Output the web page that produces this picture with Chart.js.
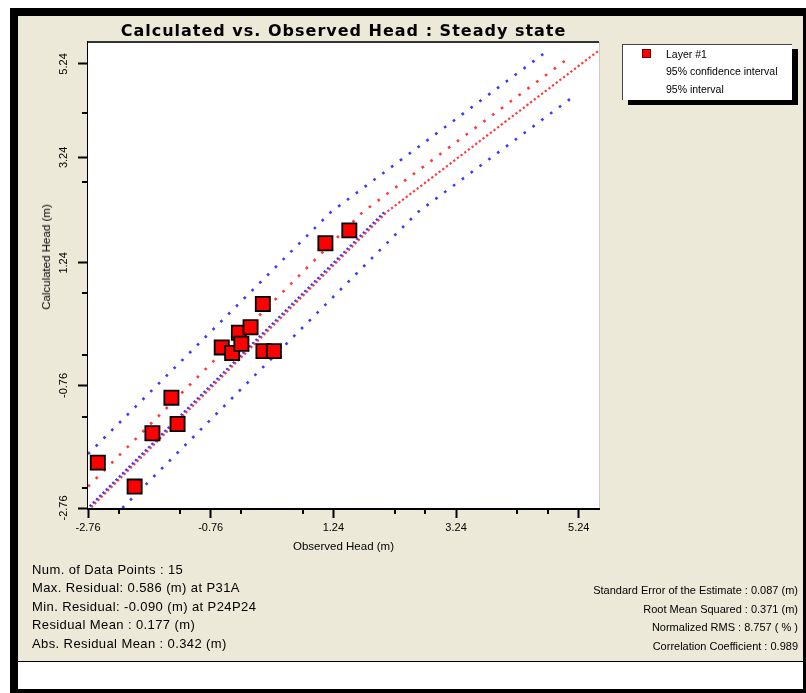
<!DOCTYPE html>
<html>
<head>
<meta charset="utf-8">
<script src="https://cdn.jsdelivr.net/npm/chart.js@4.4.1/dist/chart.umd.min.js"></script>
<style>
html,body{margin:0;padding:0;background:#fff;width:806px;height:693px;overflow:hidden;font-family:"Liberation Sans",Arial,sans-serif;}
#frame{position:absolute;left:10px;top:8px;width:796px;height:685px;background:#000;}
#panel{position:absolute;left:18px;top:16px;width:785px;height:645px;background:#ECE9D8;}
#strip{position:absolute;left:18px;top:662px;width:785px;height:27px;background:#fff;}
#c{position:absolute;left:0;top:0;}
.t{position:absolute;white-space:nowrap;color:#000;}
#title{left:88px;width:511px;top:21px;text-align:center;font-weight:bold;font-size:16px;letter-spacing:1px;font-family:"DejaVu Sans",Verdana,sans-serif;}
#ytitle{left:46px;top:257px;transform:translate(-50%,-50%) rotate(-90deg);font-size:11.5px;}
#xtitle{left:88px;width:511px;top:540px;text-align:center;font-size:11.5px;}
#statsL{left:32px;top:561px;font-size:13px;letter-spacing:0.4px;line-height:18.4px;}
#statsR{right:8px;top:581px;font-size:11px;line-height:18.5px;text-align:right;}
#legend{position:absolute;left:622px;top:44px;width:169px;height:55px;background:#fff;border-top:1px solid #444;border-left:1px solid #444;box-shadow:6px 5px 0 #000;font-size:10.5px;}
#legend .row{position:absolute;left:43px;white-space:nowrap;transform:translateY(-50%);}
#legend .mk{position:absolute;left:19px;top:4px;width:7px;height:7px;background:#f00;border:1px solid #600;}
</style>
</head>
<body>
<div id="frame"></div>
<div id="panel"></div>
<div id="strip"></div>
<canvas id="c" width="806" height="693"></canvas>
<div class="t" id="title">Calculated vs. Observed Head : Steady state</div>
<div class="t" id="ytitle">Calculated Head (m)</div>
<div class="t" id="xtitle">Observed Head (m)</div>
<div id="legend">
  <div class="mk"></div>
  <div class="row" style="top:9px">Layer #1</div>
  <div class="row" style="top:26px">95% confidence interval</div>
  <div class="row" style="top:44px">95% interval</div>
</div>
<div class="t" id="statsL">Num. of Data Points : 15<br>Max. Residual: 0.586 (m) at P31A<br>Min. Residual: -0.090 (m) at P24P24<br>Residual Mean : 0.177 (m)<br>Abs. Residual Mean : 0.342 (m)</div>
<div class="t" id="statsR">Standard Error of the Estimate : 0.087 (m)<br>Root Mean Squared : 0.371 (m)<br>Normalized RMS : 8.757 ( % )<br>Correlation Coefficient : 0.989</div>
<script>
// ---- data ----
const OBSERVED   = [-2.60, -2.00, -1.71, -1.40, -1.30, -0.58, -0.41, -0.30, -0.26, -0.11, 0.09, 0.10, 0.27, 1.11, 1.50];
const CALCULATED = [-2.02, -2.41, -1.54, -0.96, -1.39, -0.14, -0.23, 0.10, -0.08, 0.19, 0.57, -0.20, -0.20, 1.56, 1.77];
const X_TICKS = [-2.76, -0.76, 1.24, 3.24, 5.24];
const Y_TICKS = [-2.76, -0.76, 1.24, 3.24, 5.24];
const X_MINOR = [-2.26, -1.26, -0.26, 0.74, 2.24, 2.74, 4.24, 4.74];
const Y_MINOR = [-2.43, -1.28, -0.27, 0.74, 2.72, 4.20];
const X_RANGE = [-2.76, 5.57];
const Y_RANGE = [-2.76, 5.71];
// line vertices (observed, calculated)
const ONE_TO_ONE_X = [-2.76, 2.07];
const ONE_TO_ONE_Y = [-2.76, 2.07];
const CONF_LOW_X = [-2.76, 2.11, 5.57];
const CONF_LOW_Y = [-2.80, 2.07, 5.53];
const CONF_UP_X  = [-2.76, 1.72, 5.11];
const CONF_UP_Y  = [-2.41, 2.07, 5.40];
const PRED_UP_X  = [-2.76, 1.20, 4.72];
const PRED_UP_Y  = [-1.88, 2.07, 5.51];
const PRED_LOW_X = [-2.20, 2.62, 5.11];
const PRED_LOW_Y = [-2.76, 2.07, 4.50];

// vertical axis of the picture is compressed above this value
const Y_BREAK = 2.07;
const Y_UPPER_RATIO = 0.762;

class BrokenLinearScale extends Chart.LinearScale {
  _toV(v){ return v <= Y_BREAK ? v : Y_BREAK + (v - Y_BREAK) * Y_UPPER_RATIO; }
  _fromV(u){ return u <= Y_BREAK ? u : Y_BREAK + (u - Y_BREAK) / Y_UPPER_RATIO; }
  getPixelForValue(value){
    if (value === null || value === undefined || isNaN(value)) return NaN;
    const lo = this._toV(this.min), hi = this._toV(this.max);
    return this.getPixelForDecimal((this._toV(value) - lo) / (hi - lo));
  }
  getValueForPixel(pixel){
    const lo = this._toV(this.min), hi = this._toV(this.max);
    return this._fromV(lo + this.getDecimalForPixel(pixel) * (hi - lo));
  }
}
BrokenLinearScale.id = 'brokenLinear';
BrokenLinearScale.defaults = Chart.LinearScale.defaults;
Chart.register(BrokenLinearScale);

const pts = (xs, ys) => xs.map((x, i) => ({x: x, y: ys[i]}));
const BLUE = '#3a3aff', RED = '#ff3a3a';

function lineDs(xs, ys, color, width, dash, offset){
  return {type:'line', data: pts(xs, ys), borderColor: color, borderWidth: width,
          borderDash: dash, borderDashOffset: offset || 0, borderCapStyle:'butt',
          pointRadius: 0, fill: false, tension: 0};
}

const plotFrame = {
  id: 'plotFrame',
  beforeDatasetsDraw(chart){
    const {ctx, chartArea:a} = chart;
    ctx.save(); ctx.fillStyle = '#fff';
    ctx.fillRect(a.left, a.top, a.right - a.left, a.bottom - a.top);
    ctx.restore();
  },
  afterDraw(chart){
    const {ctx, chartArea:a} = chart;
    ctx.save();
    ctx.strokeStyle = '#333'; ctx.lineWidth = 2;
    ctx.beginPath(); ctx.moveTo(a.left, a.top); ctx.lineTo(a.right, a.top); ctx.stroke();
    ctx.strokeStyle = '#ccc'; ctx.lineWidth = 1;
    ctx.beginPath(); ctx.moveTo(a.right + 0.5, a.top); ctx.lineTo(a.right + 0.5, a.bottom); ctx.stroke();
    ctx.strokeStyle = '#000'; ctx.lineWidth = 2;
    const xs = chart.scales.x, ys = chart.scales.y;
    X_MINOR.forEach(v => { const p = Math.round(xs.getPixelForValue(v));
      ctx.beginPath(); ctx.moveTo(p, a.bottom); ctx.lineTo(p, a.bottom + 6); ctx.stroke(); });
    Y_MINOR.forEach(v => { const p = Math.round(ys.getPixelForValue(v));
      ctx.beginPath(); ctx.moveTo(a.left, p); ctx.lineTo(a.left - 6, p); ctx.stroke(); });
    ctx.restore();
  }
};

const tickFont = {family: '"Liberation Sans", Arial, sans-serif', size: 11};

new Chart(document.getElementById('c'), {
  type: 'scatter',
  data: {
    datasets: [
      {type:'scatter', data: pts(OBSERVED, CALCULATED), pointStyle:'rect', pointRadius: 10,
       backgroundColor:'#ff0000', borderColor:'#000', borderWidth: 1.8},
      lineDs(ONE_TO_ONE_X, ONE_TO_ONE_Y, BLUE, 2.2, [2.2, 2.4], 2.3),
      lineDs(CONF_LOW_X, CONF_LOW_Y, RED, 2.2, [2.2, 2.4], 0),
      lineDs(CONF_UP_X, CONF_UP_Y, RED, 2.6, [2.6, 8.4]),
      lineDs(PRED_UP_X, PRED_UP_Y, BLUE, 2.6, [2.6, 8.4]),
      lineDs(PRED_LOW_X, PRED_LOW_Y, BLUE, 2.6, [2.6, 8.4])
    ]
  },
  options: {
    responsive: false, animation: false, devicePixelRatio: 1,
    layout: {padding: {left: 0, top: 42, right: 207, bottom: 0}},
    plugins: {legend: {display: false}, tooltip: {enabled: false}, title: {display: false}},
    scales: {
      x: {
        type: 'linear', position: 'bottom', min: X_RANGE[0], max: X_RANGE[1],
        afterBuildTicks: s => { s.ticks = X_TICKS.map(v => ({value: v})); },
        afterFit: s => { s.height = 185; },
        grid: {drawOnChartArea: false, drawTicks: true, tickLength: 10, tickColor: '#000', tickWidth: 2},
        border: {display: true, color: '#000', width: 3},
        ticks: {autoSkip: false, maxRotation: 0, minRotation: 0, color: '#000', font: tickFont, padding: 3,
                callback: v => Number(v).toFixed(2)}
      },
      y: {
        type: 'brokenLinear', position: 'left', min: Y_RANGE[0], max: Y_RANGE[1],
        afterBuildTicks: s => { s.ticks = Y_TICKS.map(v => ({value: v})); },
        afterFit: s => { s.width = 88; },
        grid: {drawOnChartArea: false, drawTicks: true, tickLength: 10, tickColor: '#000', tickWidth: 2},
        border: {display: true, color: '#000', width: 3},
        ticks: {autoSkip: false, minRotation: 90, maxRotation: 90, crossAlign: 'center', color: '#000',
                font: tickFont, padding: 1, callback: v => Number(v).toFixed(2)}
      }
    }
  },
  plugins: [plotFrame]
});
</script>
</body>
</html>
